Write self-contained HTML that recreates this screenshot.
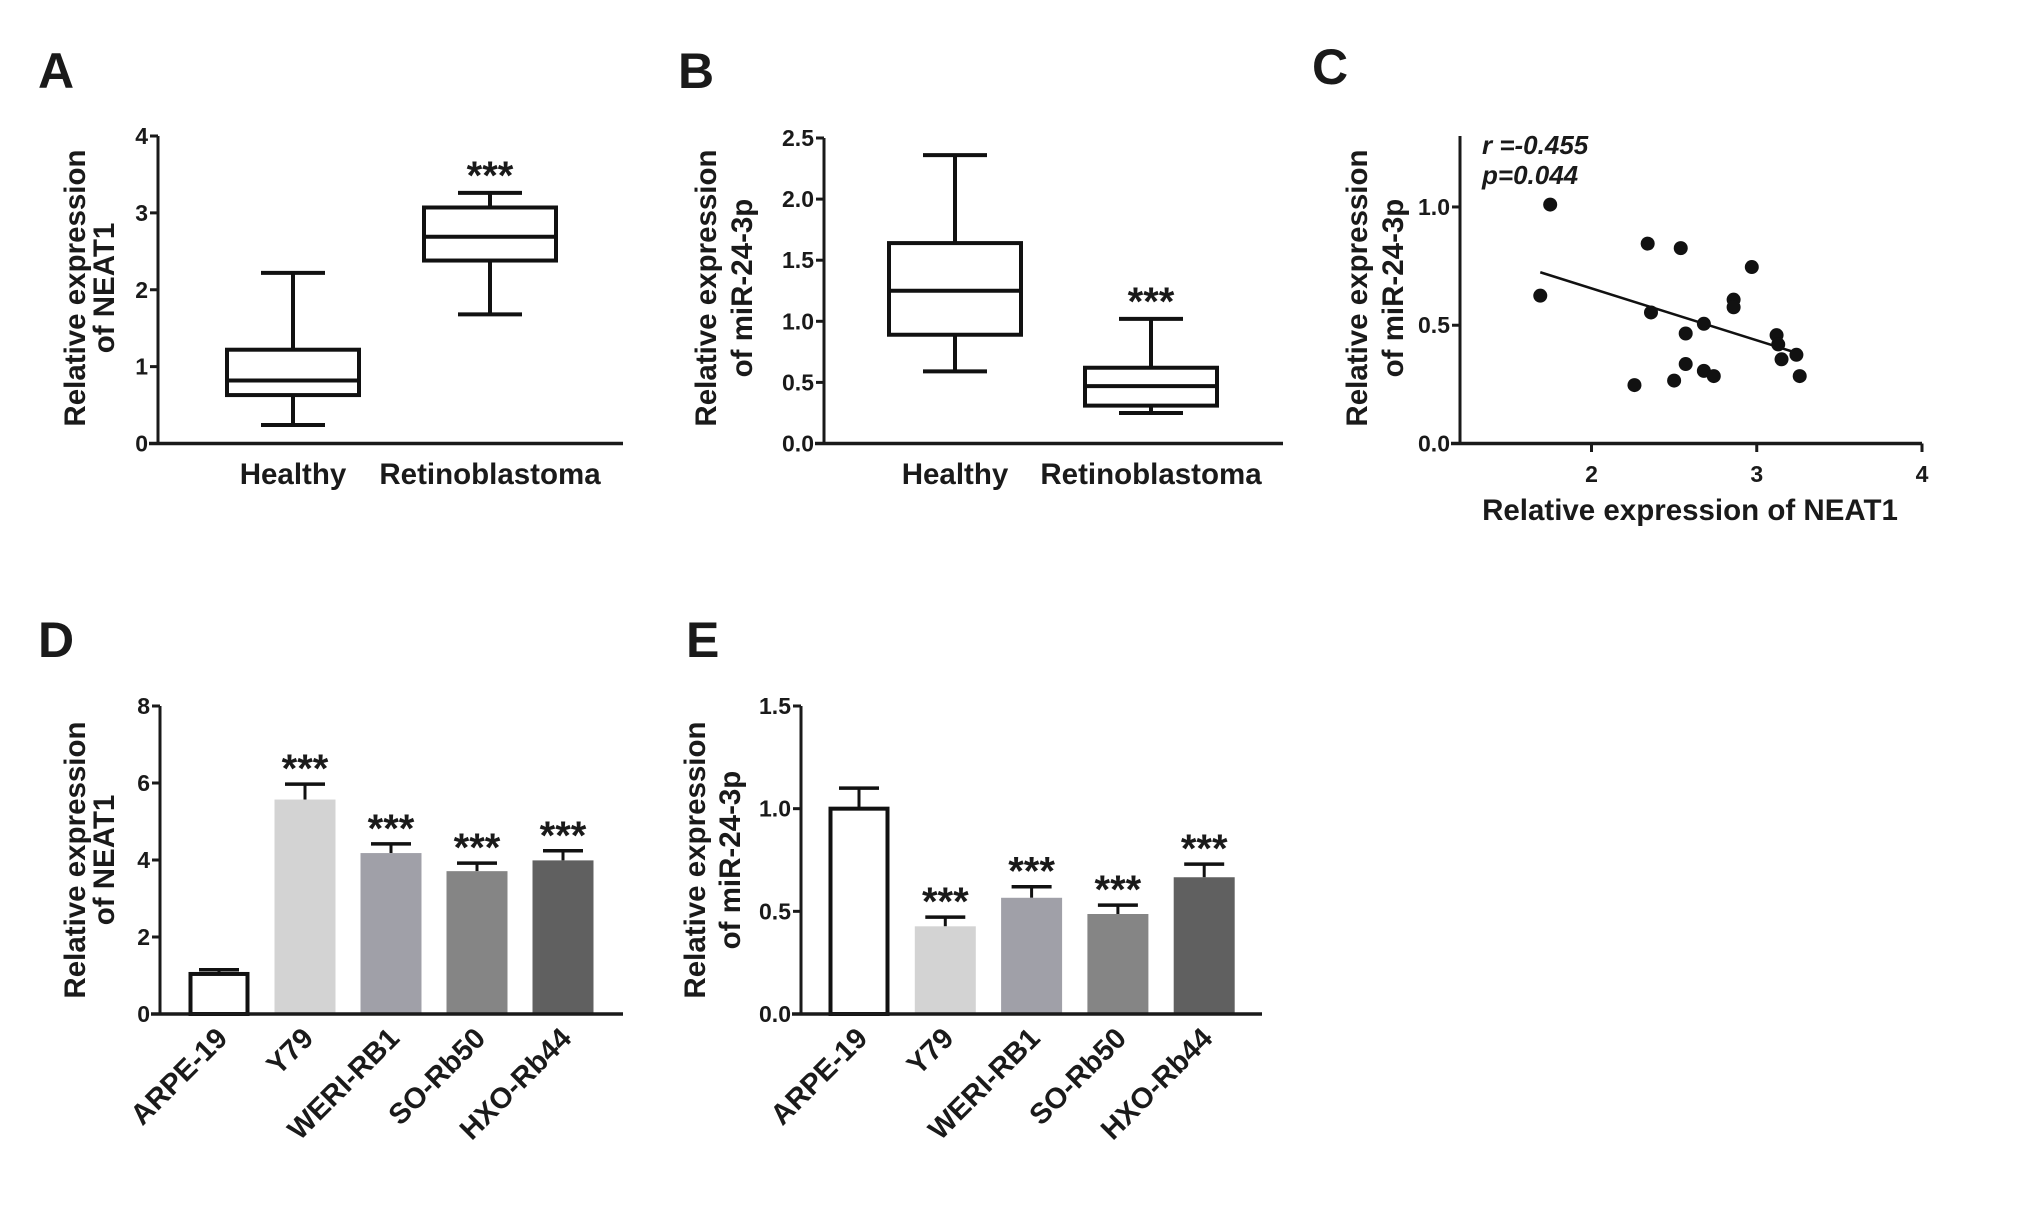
<!DOCTYPE html>
<html><head><meta charset="utf-8"><style>
body{margin:0;background:#fff}
svg{display:block;font-family:"Liberation Sans",Arial,sans-serif}
text{fill:#1a1a1a}
</style></head><body>
<svg id="fig" width="2031" height="1208" viewBox="0 0 2031 1208" xmlns="http://www.w3.org/2000/svg">
<rect x="0" y="0" width="2031" height="1208" fill="#fff"/>
</svg>
<script>
// Panel A data (box plot NEAT1)
const aCats = ["Healthy","Retinoblastoma"];
const aMin = [0.24,1.68];
const aQ1 = [0.63,2.38];
const aMed = [0.82,2.69];
const aQ3 = [1.22,3.07];
const aMax = [2.22,3.26];
const aTicks = ["0","1","2","3","4"];
const aTickVals = [0,1,2,3,4];
// Panel B data (box plot miR-24-3p)
const bCats = ["Healthy","Retinoblastoma"];
const bMin = [0.59,0.25];
const bQ1 = [0.89,0.31];
const bMed = [1.25,0.47];
const bQ3 = [1.64,0.62];
const bMax = [2.36,1.02];
const bTicks = ["0.0","0.5","1.0","1.5","2.0","2.5"];
const bTickVals = [0,0.5,1,1.5,2,2.5];
// Panel C data (scatter)
const cX = [1.75,1.69,2.34,2.54,2.36,2.97,2.86,2.86,2.68,2.57,3.12,3.13,3.24,3.15,2.57,2.68,2.74,3.26,2.50,2.26];
const cY = [1.01,0.625,0.845,0.826,0.554,0.746,0.608,0.576,0.506,0.465,0.458,0.419,0.375,0.356,0.336,0.307,0.285,0.285,0.266,0.247];
const cFitX = [1.69,3.21];
const cFitY = [0.724,0.39];
const cXTicks = ["2","3","4"];
const cXTickVals = [2,3,4];
const cYTicks = ["0.0","0.5","1.0"];
const cYTickVals = [0,0.5,1.0];
// Panel D data (bars NEAT1)
const dCats = ["ARPE-19","Y79","WERI-RB1","SO-Rb50","HXO-Rb44"];
const dVals = [1.04,5.57,4.18,3.71,3.99];
const dErr = [0.11,0.40,0.24,0.21,0.25];
const dSig = ["","***","***","***","***"];
const dTicks = ["0","2","4","6","8"];
const dTickVals = [0,2,4,6,8];
// Panel E data (bars miR-24-3p)
const eCats = ["ARPE-19","Y79","WERI-RB1","SO-Rb50","HXO-Rb44"];
const eVals = [1.0,0.427,0.566,0.487,0.666];
const eErr = [0.10,0.045,0.054,0.043,0.064];
const eSig = ["","***","***","***","***"];
const eTicks = ["0.0","0.5","1.0","1.5"];
const eTickVals = [0,0.5,1.0,1.5];

const NS="http://www.w3.org/2000/svg";
const svg=document.getElementById('fig');
function mk(tag,attrs,parent,txt){const e=document.createElementNS(NS,tag);for(const k in attrs)e.setAttribute(k,attrs[k]);if(txt!==undefined)e.textContent=txt;(parent||svg).appendChild(e);return e;}
function grp(name){const g=mk('g',{});


return g;}
function lin(d0,d1,r0,r1){return v=>r0+(v-d0)*(r1-r0)/(d1-d0);}

function letter(t,x,y){const e=mk('text',{x:x,y:y,'font-size':50,'font-weight':'bold'},svg,t);

}

function yTitle(lines,cx,cy,name){const g=grp(name);
lines.forEach((l,i)=>{const x=cx[i];const t=mk('text',{x:x,y:cy,'font-size':29.5,'font-weight':'bold','text-anchor':'middle',transform:`rotate(-90 ${x} ${cy})`},g,l);

});}

function yAxis(x,y0,y1,vals,labels,sc,name){const g=grp(name);
mk('line',{x1:x,y1:y0+1.5,x2:x,y2:y1,stroke:'#1a1a1a','stroke-width':3},g);
vals.forEach((v,i)=>{const y=sc(v);mk('line',{x1:x-8,y1:y,x2:x,y2:y,stroke:'#1a1a1a','stroke-width':3},g);
const t=mk('text',{x:x-10,y:y+8,'font-size':23,'font-weight':'bold','text-anchor':'end',fill:'#333'},g,labels[i]);

});}

function xAxisLine(x0,x1,y,name){const l=mk('line',{x1:x0-9,y1:y,x2:x1,y2:y,stroke:'#1a1a1a','stroke-width':3.5});

}

function boxPanel(cats,mn,q1,md,q3,mx,centers,sc,hw,name){
cats.forEach((c,i)=>{const g=grp(name+'-'+c.toLowerCase());const cx=centers[i];
mk('line',{x1:cx,y1:sc(mx[i]),x2:cx,y2:sc(q3[i]),stroke:'#111','stroke-width':4},g);
mk('line',{x1:cx,y1:sc(q1[i]),x2:cx,y2:sc(mn[i]),stroke:'#111','stroke-width':4},g);
mk('line',{x1:cx-32,y1:sc(mx[i]),x2:cx+32,y2:sc(mx[i]),stroke:'#111','stroke-width':4},g);
mk('line',{x1:cx-32,y1:sc(mn[i]),x2:cx+32,y2:sc(mn[i]),stroke:'#111','stroke-width':4},g);
mk('rect',{x:cx-hw,y:sc(q3[i]),width:2*hw,height:sc(q1[i])-sc(q3[i]),fill:'#fff',stroke:'#111','stroke-width':4},g);
mk('line',{x1:cx-hw,y1:sc(md[i]),x2:cx+hw,y2:sc(md[i]),stroke:'#111','stroke-width':4},g);
const t=mk('text',{x:cx,y:484,'font-size':29.5,'font-weight':'bold','text-anchor':'middle'},svg,c);

});}

function stars(x,y){const t=mk('text',{x:x,y:y+8,'font-size':40,'font-weight':'bold','text-anchor':'middle'},svg,'***');

}

// ---------- Panel A ----------
letter('A',38,88);
const aS=lin(0,4,443.5,136);
yAxis(158,443.5,136,aTickVals,aTicks,aS,'panel-a-y-axis');
xAxisLine(158,623,443.5,'panel-a-x-axis');
yTitle(["Relative expression","of NEAT1"],[85,114],288,'panel-a-y-title');
const aCenters=[293,490];
boxPanel(aCats,aMin,aQ1,aMed,aQ3,aMax,aCenters,aS,66,'panel-a-box');
stars(aCenters[1],aS(aMax[1])-12);

// ---------- Panel B ----------
letter('B',678,88);
const bS=lin(0,2.5,443.5,138);
yAxis(824,443.5,138,bTickVals,bTicks,bS,'panel-b-y-axis');
xAxisLine(824,1283,443.5,'panel-b-x-axis');
yTitle(["Relative expression","of miR-24-3p"],[716,752],288,'panel-b-y-title');
const bCenters=[955,1151];
boxPanel(bCats,bMin,bQ1,bMed,bQ3,bMax,bCenters,bS,66,'panel-b-box');
stars(bCenters[1],bS(bMax[1])-12);

// ---------- Panel C ----------
letter('C',1312,84);
const cXS=lin(2,4,1591.5,1922);
const cYS=lin(0,1.3,443.5,136);
yAxis(1460,443.5,136,cYTickVals,cYTicks,cYS,'panel-c-y-axis');
(function(){const g=grp('panel-c-x-axis');
mk('line',{x1:1451,y1:443.5,x2:1922,y2:443.5,stroke:'#1a1a1a','stroke-width':3.5},g);
cXTickVals.forEach((v,i)=>{const x=cXS(v);mk('line',{x1:x,y1:443.5,x2:x,y2:452,stroke:'#1a1a1a','stroke-width':3},g);
const t=mk('text',{x:x,y:482,'font-size':23,'font-weight':'bold','text-anchor':'middle',fill:'#333'},g,cXTicks[i]);

});})();
yTitle(["Relative expression","of miR-24-3p"],[1367,1403],288,'panel-c-y-title');
(function(){const t=mk('text',{x:1690,y:520,'font-size':29.5,'font-weight':'bold','text-anchor':'middle'},svg,'Relative expression of NEAT1');


const s1=mk('text',{x:1482,y:154,'font-size':26,'font-weight':'bold','font-style':'italic'},svg,'r =-0.455');


const s2=mk('text',{x:1482,y:184,'font-size':26,'font-weight':'bold','font-style':'italic'},svg,'p=0.044');


const fl=mk('line',{x1:cXS(cFitX[0]),y1:cYS(cFitY[0]),x2:cXS(cFitX[1]),y2:cYS(cFitY[1]),stroke:'#111','stroke-width':2.5});


const g=grp('panel-c-points');
cX.forEach((v,i)=>{const c=mk('circle',{cx:cXS(v),cy:cYS(cY[i]),r:7,fill:'#111'},g);

});})();

// ---------- Bar panels ----------
const barFills=['#fff','#d3d3d3','#a0a0a8','#858585','#606060'];
function barPanel(cats,vals,err,sig,sc,x0,pitch,bw,name){
cats.forEach((c,i)=>{const cx=x0+i*pitch;const g=grp(name+'-bar-'+c.toLowerCase());
const top=sc(vals[i]),base=sc(0);
const et=sc(vals[i]+err[i]);
mk('line',{x1:cx,y1:top,x2:cx,y2:et,stroke:'#111','stroke-width':3},g);
mk('line',{x1:cx-20,y1:et,x2:cx+20,y2:et,stroke:'#111','stroke-width':3.5},g);
if(i===0) mk('rect',{x:cx-bw/2+2,y:top,width:bw-4,height:base-top,fill:'#fff',stroke:'#111','stroke-width':4},g);
else mk('rect',{x:cx-bw/2,y:top,width:bw,height:base-top,fill:barFills[i]},g);
if(sig[i]) stars(cx,et-10);
const lx=cx+10,ly=1040;
const t=mk('text',{x:lx,y:ly,'font-size':29,'font-weight':'bold','text-anchor':'end',transform:`rotate(-45 ${lx} ${ly})`},svg,c);

});}

// ---------- Panel D ----------
letter('D',38,657);
const dS=lin(0,8,1014,706);
yAxis(160,1014,706,dTickVals,dTicks,dS,'panel-d-y-axis');
yTitle(["Relative expression","of NEAT1"],[85,114],860,'panel-d-y-title');
barPanel(dCats,dVals,dErr,dSig,dS,219,86,61,'panel-d');
xAxisLine(160,623,1014,'panel-d-x-axis');

// ---------- Panel E ----------
letter('E',686,657);
const eS=lin(0,1.5,1014,706);
yAxis(801,1014,706,eTickVals,eTicks,eS,'panel-e-y-axis');
yTitle(["Relative expression","of miR-24-3p"],[705,740],860,'panel-e-y-title');
barPanel(eCats,eVals,eErr,eSig,eS,859,86.3,61,'panel-e');
xAxisLine(801,1262,1014,'panel-e-x-axis');
</script>
</body></html>
